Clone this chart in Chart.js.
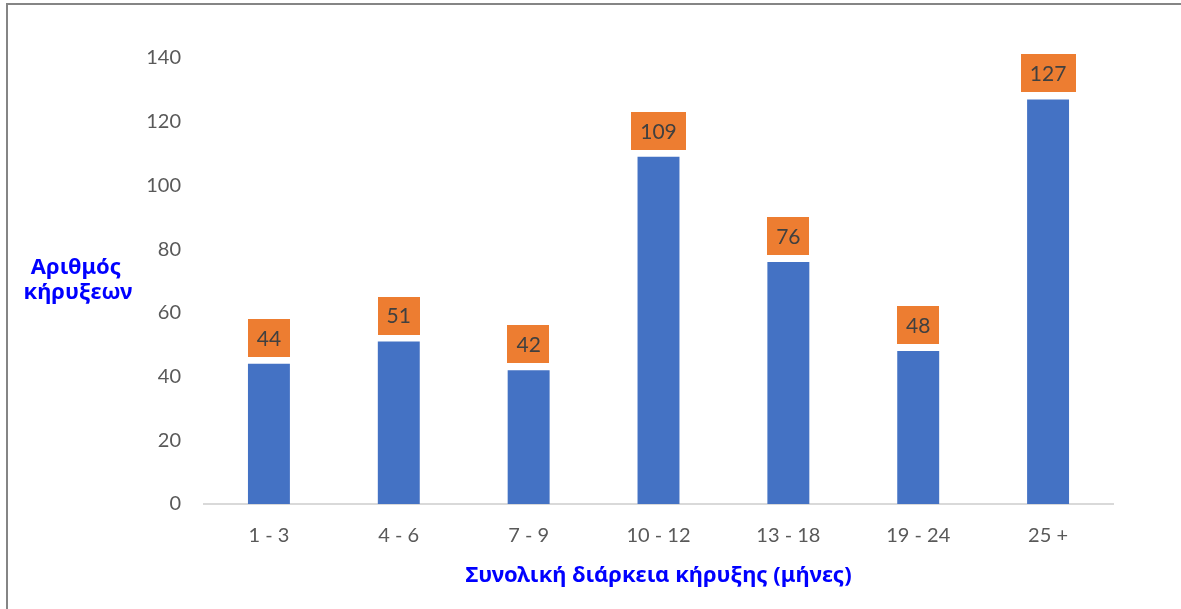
<!DOCTYPE html>
<html>
<head>
<meta charset="utf-8">
<script src="https://cdn.jsdelivr.net/npm/chart.js@4"></script>
<style>
  html, body { margin: 0; padding: 0; background: #ffffff; }
  #frame {
    position: absolute; left: 6px; top: 3px; right: 0; bottom: 0;
    border-top: 2px solid #858585; border-left: 2px solid #858585;
  }
  #wrap { position: absolute; left: 0; top: 0; width: 1181px; height: 609px; }
</style>
</head>
<body>
<div id="frame"></div>
<div id="wrap"><canvas id="c" width="1181" height="609"></canvas></div>
<script>
// Duration bands (months) and number of announcements in each
const categories = ['1 - 3', '4 - 6', '7 - 9', '10 - 12', '13 - 18', '19 - 24', '25 +'];
const counts = [44, 51, 42, 109, 76, 48, 127];
const yTicks = [0, 20, 40, 60, 80, 100, 120, 140];

const yTitleLines = ['Αριθμός', 'κήρυξεων'];
const xTitle = 'Συνολική διάρκεια κήρυξης (μήνες)';

const TICK_FONT = { family: 'Lato, "Noto Sans", sans-serif', size: 20 };
const TITLE_FAMILY = '"Noto Sans", "Open Sans", sans-serif';

// Orange value boxes above each bar
const valueBoxes = {
  id: 'valueBoxes',
  afterDatasetsDraw(chart) {
    const ctx = chart.ctx;
    const meta = chart.getDatasetMeta(0);
    ctx.save();
    ctx.font = '21px Lato, "Noto Sans", sans-serif';
    ctx.textAlign = 'center';
    ctx.textBaseline = 'middle';
    meta.data.forEach((bar, i) => {
      const txt = String(chart.data.datasets[0].data[i]);
      const w = ctx.measureText(txt).width + 18;
      const h = 38;
      const bottom = bar.y - 7;
      ctx.fillStyle = '#ED7D31';
      ctx.fillRect(Math.round(bar.x - w / 2), Math.round(bottom - h), Math.round(w), h);
      ctx.fillStyle = '#404040';
      ctx.fillText(txt, bar.x, bottom - h / 2 + 1);
    });
    ctx.restore();
  }
};

// Horizontal two-line title beside the value axis
const sideTitle = {
  id: 'sideTitle',
  afterDraw(chart) {
    const ctx = chart.ctx;
    ctx.save();
    ctx.font = 'bold 22px ' + TITLE_FAMILY;
    ctx.fillStyle = '#0000FF';
    ctx.textAlign = 'center';
    ctx.textBaseline = 'middle';
    ctx.fillText(yTitleLines[0], 76, 268);
    ctx.fillText(yTitleLines[1], 78, 293);
    ctx.restore();
  }
};

new Chart(document.getElementById('c'), {
  type: 'bar',
  data: {
    labels: categories,
    datasets: [{
      data: counts,
      backgroundColor: '#4472C4',
      borderWidth: 0,
      categoryPercentage: 1,
      barPercentage: 0.323
    }]
  },
  options: {
    responsive: false,
    animation: false,
    layout: { padding: { top: 58, right: 68, bottom: 0, left: 0 } },
    plugins: {
      legend: { display: false },
      tooltip: { enabled: false }
    },
    scales: {
      x: {
        grid: { display: false, drawTicks: false },
        border: { display: true, color: '#D9D9D9', width: 2 },
        ticks: { color: '#595959', font: TICK_FONT, padding: 20 },
        title: {
          display: true,
          text: xTitle,
          color: '#0000FF',
          font: { family: TITLE_FAMILY, size: 22, weight: 'bold' },
          padding: { top: 0, bottom: 20 }
        },
        afterFit(s) { s.height = 105; }
      },
      y: {
        min: 0,
        max: 140,
        grid: { display: false, drawTicks: false },
        border: { display: false },
        afterBuildTicks(s) { s.ticks = yTicks.map(v => ({ value: v })); },
        ticks: { color: '#595959', font: TICK_FONT, padding: 23 },
        afterFit(s) { s.width = 204; }
      }
    }
  },
  plugins: [valueBoxes, sideTitle]
});
</script>
</body>
</html>
